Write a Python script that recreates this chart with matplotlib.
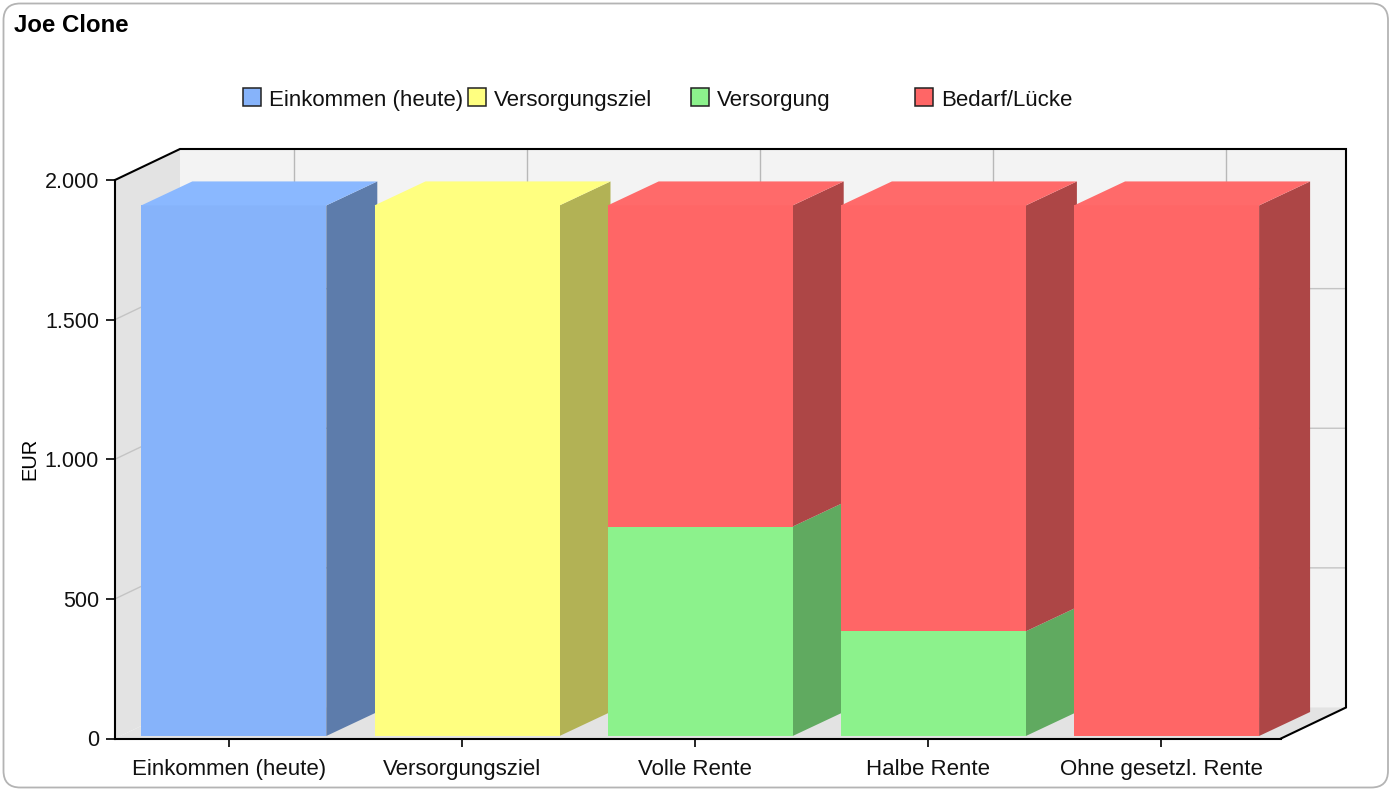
import matplotlib
matplotlib.use('Agg')
import matplotlib.pyplot as plt
import numpy as np
from matplotlib.patches import FancyBboxPatch, Rectangle
from matplotlib.ticker import FuncFormatter

plt.rcParams['font.family'] = ['Liberation Sans', 'DejaVu Sans']

categories = ['Einkommen (heute)', 'Versorgungsziel', 'Volle Rente', 'Halbe Rente', 'Ohne gesetzl. Rente']
series = ['Einkommen (heute)', 'Versorgungsziel', 'Versorgung', 'Bedarf/Lücke']
einkommen = [1900, 0, 0, 0, 0]
versorgungsziel = [0, 1900, 0, 0, 0]
versorgung = [0, 0, 750, 375, 0]
bedarf = [0, 0, 1150, 1525, 1900]
yticks = [0, 500, 1000, 1500, 2000]

front = ['#86b3fa', '#ffff80', '#8cf28c', '#ff6666']
top = ['#8ab8ff', '#ffff80', '#90f890', '#ff6a6a']
side = ['#5d7cab', '#b2b255', '#60aa60', '#ad4646']
legend_x = [243, 468, 691, 915]

W, H = 1392, 791
fig = plt.figure(figsize=(W / 100, H / 100), dpi=100)

# front face of the plot box, in pixels
x0, x1, ybot, ytop = 115, 1281, 738.5, 180
ax = fig.add_axes([x0 / W, 1 - ybot / H, (x1 - x0) / W, (ybot - ytop) / H])
ax.set_xlim(0, 5)
ax.set_ylim(0, 2000)
ax.patch.set_visible(False)

px = 5 / (x1 - x0)
py = 2000 / (ybot - ytop)
wx, wy = 65 * px, 31 * py      # depth of the walls
bx, by = 51 * px, 24 * py      # depth of the bars
bar_w = 185 * px
base = 2.5 * py
tick_shift = -3 * px

# frame
fig.add_artist(FancyBboxPatch((3.5 / W, 1 - 787.5 / H), 1384.5 / W, 784 / H,
                              boxstyle='round,pad=0,rounding_size=0.012', mutation_aspect=W / H,
                              transform=fig.transFigure, fc='white', ec='#b4b4b4', lw=1.3, zorder=-5))

# walls
ax.fill([wx, 5 + wx, 5 + wx, wx], [wy, wy, 2000 + wy, 2000 + wy], color='#f3f3f3', lw=0, clip_on=False, zorder=1)
ax.fill([0, wx, wx, 0], [0, wy, 2000 + wy, 2000], color='#e3e3e3', lw=0, clip_on=False, zorder=1)
ax.fill([0, 5, 5 + wx, wx], [0, 0, wy, wy], color='#e3e3e3', lw=0, clip_on=False, zorder=1)

# grid on the walls
for v in yticks[1:-1]:
    ax.plot([0, wx, 5 + wx], [v, v + wy, v + wy], color='#c4c4c4', lw=1, clip_on=False, zorder=1.5)
for i in range(5):
    ax.plot([i + 0.5 + tick_shift + wx] * 2, [wy, 2000 + wy], color='#b8b8b8', lw=1, clip_on=False, zorder=1.5)

# outer lines of the box
ax.plot([0, wx, 5 + wx, 5 + wx, 5], [2000, 2000 + wy, 2000 + wy, wy, 0], color='black', lw=1.5,
        clip_on=False, zorder=2, solid_joinstyle='miter')

# stacked bars, left to right
stack = np.array([einkommen, versorgungsziel, versorgung, bedarf])
for i in range(len(categories)):
    left = i + 0.5 - bar_w / 2 + 2.2 * px
    right = left + bar_w
    bottom = base
    last = np.nonzero(stack[:, i])[0][-1]
    for s in range(len(series)):
        v = stack[s, i]
        if v == 0:
            continue
        t = bottom + v
        ax.fill([right, right + bx, right + bx, right], [bottom, bottom + by, t + by, t],
                color=side[s], lw=0, clip_on=False, zorder=3 + i * 0.1)
        ax.fill([left, right, right, left], [bottom, bottom, t, t],
                color=front[s], lw=0, clip_on=False, zorder=3 + i * 0.1)
        if s == last:
            ax.fill([left, right, right + bx, left + bx], [t, t, t + by, t + by],
                    color=top[s], lw=0, clip_on=False, zorder=3 + i * 0.1)
        bottom = t

# axes
for sp in ['top', 'right']:
    ax.spines[sp].set_visible(False)
for sp in ['left', 'bottom']:
    ax.spines[sp].set_linewidth(1.5)
    ax.spines[sp].set_zorder(6)
ax.set_xticks(np.arange(5) + 0.5 + tick_shift, categories)
ax.set_yticks(yticks)
ax.yaxis.set_major_formatter(FuncFormatter(lambda v, p: f'{int(v):,}'.replace(',', '.')))
ax.tick_params(axis='x', length=5.5, width=1.2, labelsize=16, pad=9, labelcolor='#111111')
ax.tick_params(axis='y', length=6.5, width=1.2, labelsize=15.5, pad=5, labelcolor='#111111')
ax.set_ylabel('EUR', fontsize=14.5, labelpad=0)
ax.yaxis.set_label_coords((39 - x0) / (x1 - x0), 0.5)

# legend
for x, name, c in zip(legend_x, series, front):
    fig.add_artist(Rectangle((x / W, 1 - 106 / H), 18 / W, 18 / H, transform=fig.transFigure,
                             fc=c, ec='#222222', lw=1.1))
    fig.text((x + 26) / W, 1 - 100.5 / H, name, fontsize=16, va='center', ha='left', color='#111111')

fig.text(14 / W, 1 - 25 / H, 'Joe Clone', fontsize=17.3, fontweight='bold', va='center', ha='left')

fig.savefig('out.png', dpi=100)
